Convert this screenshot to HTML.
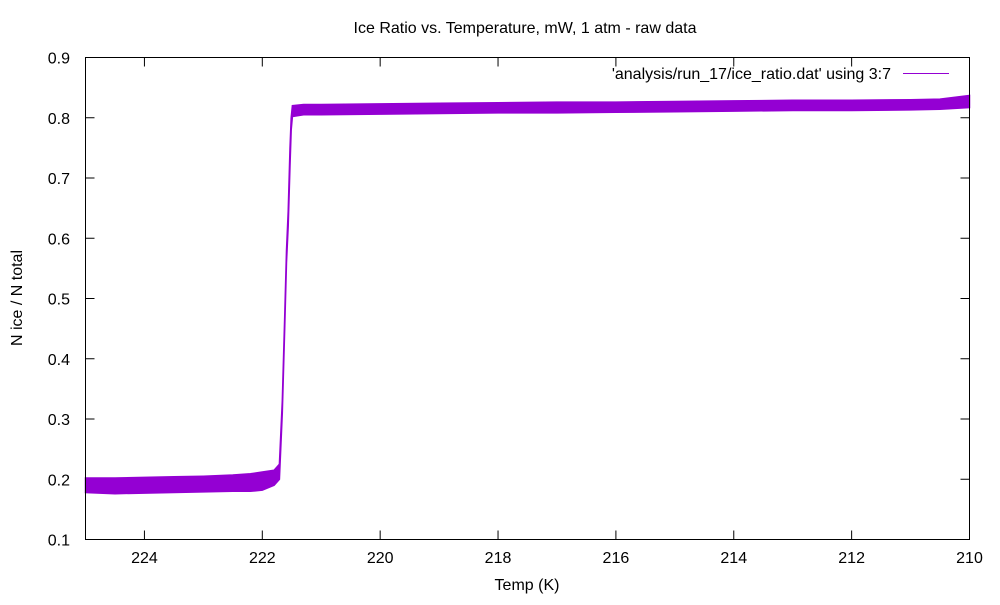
<!DOCTYPE html>
<html><head><meta charset="utf-8"><style>
body{margin:0;background:#fff;}
svg text{font-family:"Liberation Sans",sans-serif;font-size:16px;fill:#000;}
</style></head><body>
<svg id="chart" width="1000" height="600">
<rect width="1000" height="600" fill="#fff"/>
<text x="525" y="33" text-anchor="middle">Ice Ratio vs. Temperature, mW, 1 atm - raw data</text>
<text x="527" y="590" text-anchor="middle">Temp (K)</text>
<text transform="translate(22,298) rotate(-90)" text-anchor="middle">N ice / N total</text>
<g id="ticks"></g>
<g id="series"></g>
<rect x="85.5" y="57.5" width="884" height="482" fill="none" stroke="#000"/>
<text x="891" y="79" text-anchor="end">'analysis/run_17/ice_ratio.dat' using 3:7</text>
<line x1="903" y1="73.5" x2="949" y2="73.5" stroke="#9400d3" stroke-width="1"/>
</svg>
<script>
const xTicks=[224,222,220,218,216,214,212,210];
const yTicks=[0.1,0.2,0.3,0.4,0.5,0.6,0.7,0.8,0.9];
const temps=[225,224.5,224,223.5,223,222.5,222.2,222,221.8,221.71,221.66,221.62,221.59,221.56,221.53,221.51,221.49,221.3,221,220,219,218,217,216,215,214,213,212,211,210.5,210];
const lowVals=[0.178,0.176,0.177,0.178,0.179,0.18,0.18,0.182,0.19,0.2,0.31,0.45,0.56,0.62,0.72,0.78,0.802,0.805,0.805,0.806,0.807,0.808,0.808,0.809,0.81,0.811,0.812,0.812,0.813,0.814,0.817];
const highVals=[0.202,0.202,0.203,0.204,0.205,0.207,0.209,0.212,0.215,0.225,0.33,0.47,0.58,0.645,0.75,0.8,0.82,0.822,0.822,0.823,0.824,0.825,0.826,0.826,0.827,0.828,0.829,0.829,0.83,0.831,0.837];
const ns="http://www.w3.org/2000/svg";
const X=t=>85.5+(225-t)*(884/15);
const Y=v=>539.5-(v-0.1)*(482/0.8);
const tg=document.getElementById('ticks');
function mk(tag,attrs,parent){const e=document.createElementNS(ns,tag);for(const k in attrs)e.setAttribute(k,attrs[k]);parent.appendChild(e);return e;}
xTicks.forEach(t=>{
  const x=X(t);
  const a=mk('line',{x1:x,y1:539.5,x2:x,y2:530.5,stroke:'#000'},tg);
  
  
  const b=mk('line',{x1:x,y1:57.5,x2:x,y2:66.5,stroke:'#000'},tg);
  
  
  const l=mk('text',{x:x,y:563,'text-anchor':'middle'},tg);l.textContent=t;
  
  
});
yTicks.forEach(v=>{
  const y=Y(v);
  const a=mk('line',{x1:85.5,y1:y,x2:94.5,y2:y,stroke:'#000'},tg);
  
  
  const b=mk('line',{x1:960.5,y1:y,x2:969.5,y2:y,stroke:'#000'},tg);
  
  
  const l=mk('text',{x:70,y:y+6,'text-anchor':'end'},tg);l.textContent=v.toFixed(1);
  
  
});
const sg=document.getElementById('series');
let d='';
temps.forEach((t,i)=>{d+=(i?'L':'M')+X(t).toFixed(1)+','+Y(highVals[i]).toFixed(1);});
for(let i=temps.length-1;i>=0;i--){d+='L'+X(temps[i]).toFixed(1)+','+Y(lowVals[i]).toFixed(1);}
d+='Z';
const band=mk('path',{d:d,fill:'#9400d3',stroke:'#9400d3','stroke-width':1.5},sg);


</script>
</body></html>
